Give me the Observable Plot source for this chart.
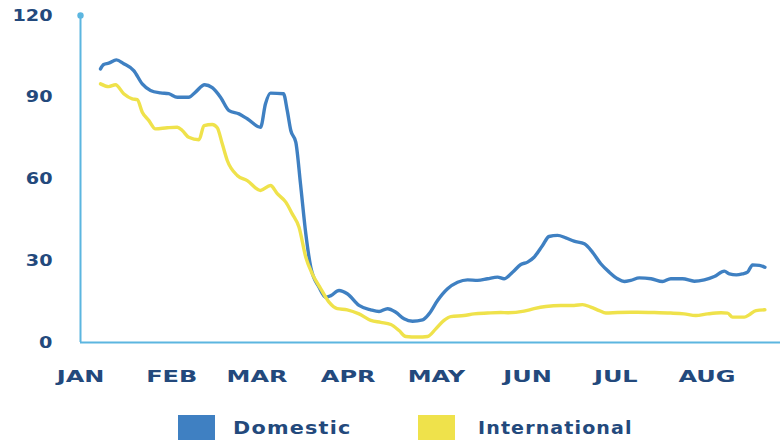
<!DOCTYPE html>
<html>
<head>
<meta charset="utf-8">
<script src="https://cdn.jsdelivr.net/npm/d3@7"></script>
<script src="https://cdn.jsdelivr.net/npm/@observablehq/plot@0.6"></script>
<style>
  html, body { margin: 0; padding: 0; background: #fff; width: 780px; height: 443px; overflow: hidden; position: relative; }
  #chart svg { display: block; }
  .legend { font-family: "DejaVu Sans", sans-serif; font-weight: 700; font-size: 17px; letter-spacing: 1px; color: #23497c; }
  .legend .sw { position: absolute; top: 415px; width: 37px; height: 25px; }
  .legend .tx { position: absolute; top: 417px; line-height: 22px; white-space: nowrap; transform-origin: left center; }
</style>
</head>
<body>
<div id="chart"></div>
<div class="legend">
  <span class="sw" id="s1" style="left:178px"></span><span class="tx" id="l1" style="left:233px; transform: scaleX(1.22)"></span>
  <span class="sw" id="s2" style="left:418px"></span><span class="tx" id="l2" style="left:478px; transform: scaleX(1.12)"></span>
</div>
<script>
// Series names and colours
const seriesNames = ["Domestic", "International"];
const seriesColors = ["#3f80c2", "#efe24b"];

// Day of year (from Jan 1) and value
const domesticDays = [6.8, 7.9, 9.6, 12.2, 14.7, 18.1, 21, 23.8, 27.2, 30, 32.9, 36.8, 39.1, 42.2, 44.8, 47.6, 50.5, 53.9, 56.7, 61.2, 62.9, 64.6, 69, 70.3, 71.5, 73.2, 74.8, 76.6, 78.3, 81.1, 83.4, 85.1, 87.9, 90.7, 94.7, 98.7, 101.5, 104.4, 107.2, 110, 112.9, 116.3, 118.5, 121.4, 124.8, 128.2, 131.6, 135, 138.4, 141.8, 144, 146.9, 149.7, 152, 154.2, 157.1, 159.3, 162.2, 165, 167.8, 171.3, 174.1, 176.9, 179.8, 182.6, 184.9, 187.1, 190, 194, 197.9, 200.7, 204.7, 208.7, 212.1, 215.5, 218.9, 220.6, 223, 225.1, 226.8, 228.5, 230.8, 232.7];
const domesticValues = [100.4, 102, 102.5, 103.7, 102.3, 99.8, 94.9, 92.5, 91.6, 91.3, 90, 90, 91.9, 94.6, 93.5, 90, 85.1, 83.9, 82.1, 79, 87.6, 91.5, 91.3, 85.1, 77.8, 73.5, 58.2, 39.9, 27.6, 20.3, 16.6, 17.2, 19.1, 17.9, 13.6, 12, 11.4, 12.4, 11.1, 8.7, 7.8, 8.3, 10.5, 15.4, 19.7, 22.1, 23, 22.8, 23.4, 24, 23.4, 25.8, 28.6, 29.5, 31.3, 35.6, 38.9, 39.3, 38.4, 37.2, 36.2, 33.1, 28.9, 25.8, 23.4, 22.4, 22.8, 23.7, 23.4, 22.4, 23.4, 23.4, 22.5, 23, 24.2, 26.2, 25.2, 24.8, 25.2, 25.8, 28.5, 28.3, 27.6];

const internationalDays = [6.8, 9.6, 11.9, 14.7, 17.6, 19.3, 21, 23.2, 25.5, 29.5, 32.9, 34.6, 36.8, 40.3, 42, 44.8, 46.5, 48.2, 49.9, 53.3, 56.7, 61.2, 64.6, 66.9, 69.8, 72, 74.3, 76.6, 78.8, 81.7, 84.5, 87.3, 90.7, 94.7, 98.7, 102.1, 105.5, 108.3, 110.6, 114.6, 118, 120.8, 123.6, 125.9, 130.4, 133.8, 138.4, 142.9, 145.2, 150.8, 154.2, 158.2, 163.3, 167.8, 170.7, 173.5, 176.4, 178.6, 182.6, 187.1, 189.4, 195, 200.7, 205.2, 209.2, 213.2, 217.8, 220, 221.7, 225.7, 227.4, 229.7, 232.7];
const internationalValues = [94.9, 93.9, 94.6, 91.3, 89.4, 89.1, 84.5, 81.5, 78.4, 78.8, 79, 77.8, 75.3, 74.4, 79.6, 80, 78.8, 72.9, 66.8, 61.3, 59.4, 55.8, 57.6, 54.6, 51.5, 47.2, 42.3, 31.3, 25.2, 19.7, 14.8, 12.4, 12, 10.5, 8.1, 7.4, 6.6, 4.4, 2.2, 2, 2.2, 5, 8.1, 9.5, 9.9, 10.5, 10.8, 11, 10.9, 11.5, 12.4, 13.2, 13.6, 13.6, 13.9, 13, 11.7, 10.8, 11, 11.1, 11.1, 11, 10.8, 10.5, 9.9, 10.5, 10.9, 10.8, 9.3, 9.3, 10.2, 11.7, 12];

// Axis ticks
const monthTickDays = [0, 31, 60, 91, 121, 152, 182, 213];
const monthLabels = ["JAN", "FEB", "MAR", "APR", "MAY", "JUN", "JUL", "AUG"];
const yTicks = [0, 30, 60, 90, 120];
const xDomain = [0, 238];
const yDomain = [0, 120];

const data = [
  ...domesticDays.map((d, i) => ({day: d, value: domesticValues[i], series: seriesNames[0]})),
  ...internationalDays.map((d, i) => ({day: d, value: internationalValues[i], series: seriesNames[1]}))
];

document.getElementById("l1").textContent = seriesNames[0];
document.getElementById("l2").textContent = seriesNames[1];
document.getElementById("s1").style.background = seriesColors[0];
document.getElementById("s2").style.background = seriesColors[1];

const axisColor = "#5cb6e0";
const labelColor = "#23497c";

const chart = Plot.plot({
  width: 780,
  height: 400,
  marginLeft: 80,
  marginRight: 0,
  marginTop: 15,
  marginBottom: 58,
  style: {fontFamily: "DejaVu Sans, sans-serif", fontWeight: "700", color: labelColor, background: "#fff"},
  x: {domain: xDomain, axis: null},
  y: {domain: yDomain, axis: null},
  color: {domain: seriesNames, range: seriesColors},
  marks: [
    Plot.ruleY([0], {stroke: axisColor, strokeWidth: 2}),
    Plot.ruleX([xDomain[0]], {y1: yDomain[0], y2: yDomain[1], stroke: axisColor, strokeWidth: 2}),
    Plot.dot([yDomain[1]], {x: () => xDomain[0], y: d => d, r: 3.2, fill: axisColor, stroke: null}),
    Plot.text(yTicks, {x: () => xDomain[0], y: d => d, text: d => String(d), textAnchor: "end", dx: -28, fontSize: 16, fontWeight: 700, fill: labelColor, className: "ylab"}),
    Plot.text(monthTickDays, {x: d => d, y: () => yDomain[0], text: (d, i) => monthLabels[i], dy: 34, fontSize: 16, fontWeight: 700, fill: labelColor, className: "xlab"}),
    Plot.line(data, {x: "day", y: "value", z: "series", stroke: "series", strokeWidth: 3.4, strokeLinejoin: "round", curve: "monotone-x"})
  ]
});
document.getElementById("chart").appendChild(chart);

// widen the glyphs to match the extended typeface of the original
function stretch(sel, factor) {
  chart.querySelectorAll(sel + " text").forEach(t => {
    const w = t.getComputedTextLength();
    t.setAttribute("textLength", (w * factor).toFixed(1));
    t.setAttribute("lengthAdjust", "spacingAndGlyphs");
  });
}
stretch(".xlab", 1.5);
stretch(".ylab", 1.2);
</script>
</body>
</html>
